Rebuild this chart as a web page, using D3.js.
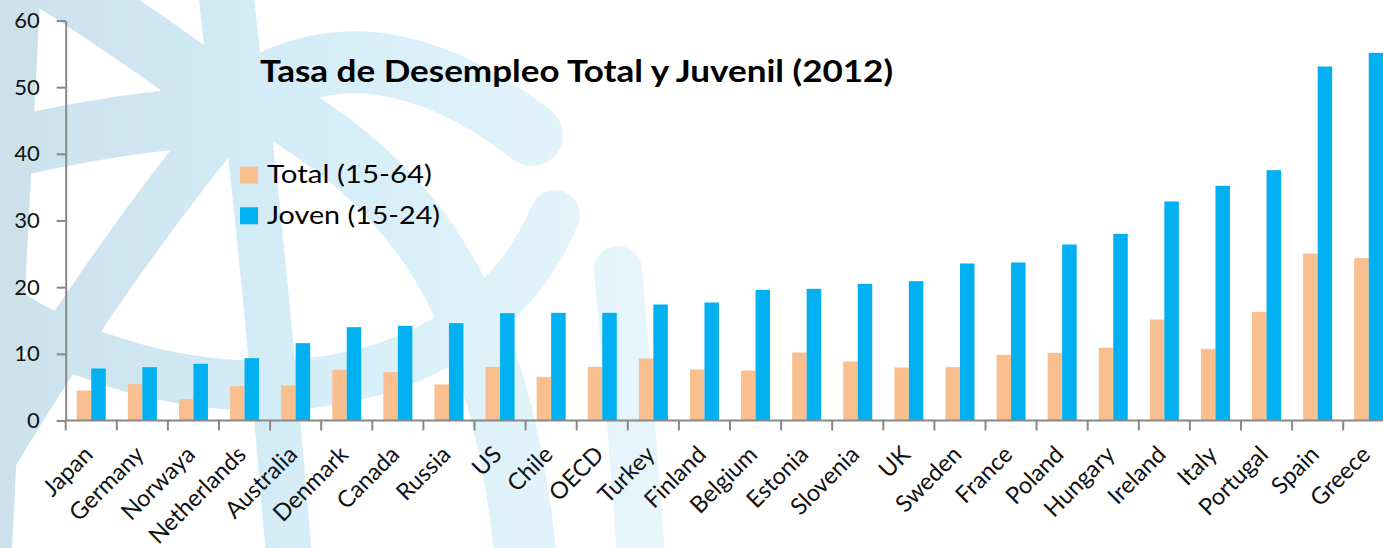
<!DOCTYPE html>
<html>
<head>
<meta charset="utf-8">
<script src="https://cdn.jsdelivr.net/npm/d3@7"></script>
<style>
  html, body { margin: 0; padding: 0; background: #fff; overflow: hidden; }
  svg { display: block; }
</style>
</head>
<body>
<svg id="chart" width="1383" height="548"></svg>
<script>
// ---- data ----
const categories = ["Japan","Germany","Norwaya","Netherlands","Australia","Denmark","Canada","Russia","US","Chile","OECD","Turkey","Finland","Belgium","Estonia","Slovenia","UK","Sweden","France","Poland","Hungary","Ireland","Italy","Portugal","Spain","Greece"];
const totalValues = [4.5,5.45,3.2,5.15,5.25,7.6,7.25,5.4,8.05,6.55,8.05,9.3,7.65,7.5,10.2,8.85,7.95,8.0,9.85,10.15,10.9,15.15,10.75,16.3,25.05,24.35];
const youthValues = [7.8,8.0,8.5,9.35,11.6,14.0,14.2,14.6,16.1,16.15,16.15,17.4,17.7,19.6,19.75,20.5,20.9,23.55,23.7,26.4,28.0,32.85,35.2,37.55,53.1,55.15];
const seriesNames = ["Total (15-64)", "Joven (15-24)"];
const seriesKeys = ["total", "youth"];
const yTicks = [0,10,20,30,40,50,60];
const title = "Tasa de Desempleo Total y Juvenil (2012)";

const colors = { total: "#F9BF8E", youth: "#00B0F0" };
const font = "Lato, 'Open Sans', sans-serif";

const svg = d3.select("#chart");

// ---- decorative watermark background ----
const defs = svg.append("defs");
const grad = defs.append("linearGradient").attr("id","bg").attr("gradientUnits","userSpaceOnUse")
  .attr("x1",0).attr("y1",0).attr("x2",720).attr("y2",0);
grad.append("stop").attr("offset",0).attr("stop-color","#cbe1ec");
grad.append("stop").attr("offset",0.45).attr("stop-color","#d5eef8");
grad.append("stop").attr("offset",1).attr("stop-color","#ebf7fc");
const bg = svg.append("g").attr("fill","none").attr("stroke","url(#bg)").attr("stroke-linecap","round");
const bands = [
  {d:"M 240,115 Q 110,120 -40,160", w:60},
  {d:"M 240,110 Q 120,20 20,-40", w:62},
  {d:"M 240,110 Q 230,40 225,-20", w:55},
  {d:"M 240,100 Q 370,10 532,135", w:62},
  {d:"M 235,110 Q 110,260 -10,460", w:50},
  {d:"M 245,100 Q 268,300 290,570", w:46},
  {d:"M 265,100 C 400,180 500,280 527,570", w:62},
  {d:"M -30,285 C 130,420 460,440 555,215", w:50},
  {d:"M 618,270 Q 630,400 642,570", w:48}
];
bg.selectAll("path").data(bands).join("path").attr("d", d => d.d).attr("stroke-width", d => d.w);
svg.append("path").attr("d","M 0,0 L 40,0 L 12,548 L 0,548 Z").attr("fill","#cde1eb");

// ---- scales ----
const x = d3.scaleBand().domain(categories).range([65.7, 1394.3]).padding(0);
const x1 = d3.scaleBand().domain(seriesKeys).range([0, x.bandwidth()]).paddingInner(0).paddingOuter(0.762);
const y = d3.scaleLinear().domain([0, 60]).range([420.5, 20.5]);

const rows = categories.map((c, i) => ({ cat: c, total: totalValues[i], youth: youthValues[i] }));

// ---- bars ----
const g = svg.append("g");
g.selectAll("g.grp").data(rows).join("g").attr("class","grp")
  .attr("transform", d => `translate(${x(d.cat)},0)`)
  .selectAll("rect").data(d => seriesKeys.map(k => ({ k, v: d[k] }))).join("rect")
  .attr("x", d => x1(d.k)).attr("width", x1.bandwidth())
  .attr("y", d => y(d.v)).attr("height", d => y(0) - y(d.v))
  .attr("fill", d => colors[d.k]);

// ---- y axis ----
const yAxis = svg.append("g").attr("transform", `translate(${x.range()[0]},0)`)
  .call(d3.axisLeft(y).tickValues(yTicks).tickSize(9).tickSizeOuter(0).tickPadding(17));
yAxis.select(".domain").attr("stroke","#888").attr("stroke-width",2);
yAxis.selectAll(".tick line").attr("stroke","#888").attr("stroke-width",2);
yAxis.selectAll(".tick text").attr("font-family", font).attr("font-size", 22).attr("fill","#111");

// ---- x axis (ticks at band edges) ----
const xAxisG = svg.append("g");
xAxisG.append("line").attr("x1", x.range()[0]).attr("x2", x.range()[1])
  .attr("y1", y(0)).attr("y2", y(0)).attr("stroke","#888").attr("stroke-width",2);
const edges = categories.map(c => x(c)).concat([x.range()[1]]);
xAxisG.selectAll("line.tk").data(edges).join("line").attr("class","tk")
  .attr("x1", d => d).attr("x2", d => d).attr("y1", y(0)).attr("y2", y(0) + 10)
  .attr("stroke","#888").attr("stroke-width",2);
xAxisG.selectAll("text").data(categories).join("text")
  .attr("transform", d => `translate(${x(d) + x.bandwidth()/2 + 3},456) rotate(-45)`)
  .attr("text-anchor","end").attr("font-family", font).attr("font-size", 23.5).attr("fill","#111")
  .text(d => d);

// ---- title ----
svg.append("text").attr("x", 260).attr("y", 82).attr("font-family", font).attr("font-weight","bold")
  .attr("font-size", 31).attr("fill","#000").attr("textLength", 633).attr("lengthAdjust","spacingAndGlyphs")
  .text(title);

// ---- legend ----
const legend = svg.append("g");
const legY = [166.7, 207.3];
const legW = [165, 173];
seriesKeys.forEach((k, i) => {
  legend.append("rect").attr("x", 240).attr("y", legY[i]).attr("width", 18).attr("height", 17).attr("fill", colors[k]);
  legend.append("text").attr("x", 267).attr("y", legY[i] + 16.5).attr("font-family", font).attr("font-size", 25)
    .attr("fill","#000").attr("textLength", legW[i]).attr("lengthAdjust","spacingAndGlyphs").text(seriesNames[i]);
});
</script>
</body>
</html>
